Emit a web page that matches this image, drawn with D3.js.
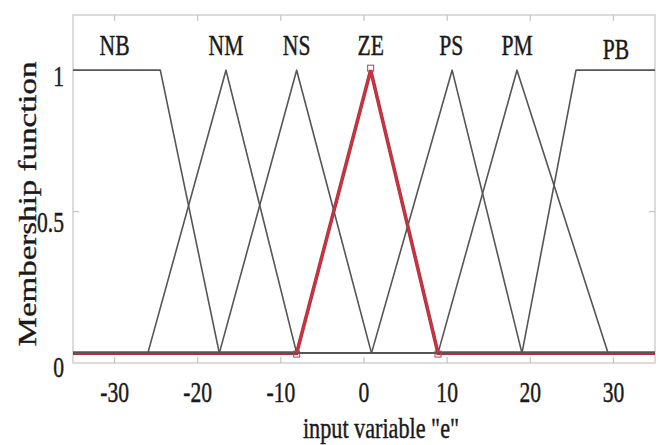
<!DOCTYPE html>
<html>
<head>
<meta charset="utf-8">
<script src="https://cdn.jsdelivr.net/npm/d3@7/dist/d3.min.js"></script>
<style>
  html, body { margin: 0; padding: 0; background: #fff; }
  svg { display: block; }
  text { font-family: "Liberation Serif", "DejaVu Serif", serif; fill: #1a1a1a; stroke: #1a1a1a; stroke-width: 0.45px; }
</style>
</head>
<body>
<svg id="chart" width="660" height="445"></svg>
<script>
// ---- data ----
const mfNames = ["NB", "NM", "NS", "ZE", "PS", "PM", "PB"];
const mfA = [-35, -26.0, -17.4, -8.1, 0.9, 8.9, 19.0];
const mfB = [-35, -16.6, -8.1, 0.8, 10.6, 18.4, 25.5];
const mfC = [-24.5, -16.6, -8.1, 0.8, 10.6, 18.4, 35];
const mfD = [-17.4, -8.1, 0.9, 8.9, 19.0, 29.35, 35];
const labelX = [-30, -16.6, -8.1, 0.8, 10.5, 18.4, 30.3];
const selectedMF = "ZE";
const xDomain = [-35, 35];
const xTicks = [-30, -20, -10, 0, 10, 20, 30];
const yTicks = [0, 0.5, 1];
const yTickLabels = ["0", "0.5", "1"];
const xTitle = 'input variable "e"';
const yTitle = "Membership function";

// ---- layout ----
const L = 73, R = 655, T = 15, B = 363;
const svg = d3.select("#chart");
const x = d3.scaleLinear().domain(xDomain).range([L, R]);
const y = d3.scaleLinear().domain([-0.035, 1.195]).range([B, T]);
const yLab = d3.scaleLinear().domain([0, 1]).range([367, 76]);

function trap(v, a, b, c, d) {
  if (v < a || v > d) return 0;
  const left = (b === a) ? 1 : (v - a) / (b - a);
  const right = (d === c) ? 1 : (d - v) / (d - c);
  return Math.max(0, Math.min(1, left, right));
}

const mfs = mfNames.map((n, i) => {
  const xs = Array.from(new Set([xDomain[0], mfA[i], mfB[i], mfC[i], mfD[i], xDomain[1]]))
    .filter(v => v >= xDomain[0] && v <= xDomain[1]).sort((p, q) => p - q);
  return { name: n, pts: xs.map(v => [v, trap(v, mfA[i], mfB[i], mfC[i], mfD[i])]), i };
});

const line = d3.line().x(d => x(d[0])).y(d => y(d[1]));

// frame
svg.append("rect").attr("x", L).attr("y", T).attr("width", R - L).attr("height", B - T)
  .attr("fill", "none").attr("stroke", "#cfcfcf").attr("stroke-width", 1.5);

// ticks (inward)
const tg = svg.append("g").attr("stroke", "#c4c4c4").attr("stroke-width", 1.2);
xTicks.forEach(t => {
  tg.append("line").attr("x1", x(t)).attr("x2", x(t)).attr("y1", B).attr("y2", B - 6);
  tg.append("line").attr("x1", x(t)).attr("x2", x(t)).attr("y1", T).attr("y2", T + 6);
});
yTicks.forEach(t => {
  tg.append("line").attr("x1", L).attr("x2", L + 6).attr("y1", y(t)).attr("y2", y(t));
  tg.append("line").attr("x1", R).attr("x2", R - 6).attr("y1", y(t)).attr("y2", y(t));
});

// selected MF (red) under, others over
const sel = mfs.find(m => m.name === selectedMF);
svg.append("path").attr("d", line(sel.pts)).attr("fill", "none")
  .attr("stroke", "#a8343f").attr("stroke-width", 3.6).attr("stroke-linejoin", "miter");

mfs.filter(m => m.name !== selectedMF).forEach(m => {
  svg.append("path").attr("d", line(m.pts)).attr("fill", "none")
    .attr("stroke", "#555555").attr("stroke-width", 1.6).attr("stroke-linejoin", "round");
});

// redraw red legs on top
const selLegs = sel.pts.filter(p => p[0] >= mfA[3] && p[0] <= mfD[3]);
svg.append("path").attr("d", line(selLegs)).attr("fill", "none")
  .attr("stroke", "#cc3340").attr("stroke-width", 2.2);

// vertex markers on selected MF
const si = mfNames.indexOf(selectedMF);
[[mfA[si], 0], [mfB[si], 1], [mfD[si], 0]].forEach(p => {
  svg.append("rect").attr("x", x(p[0]) - 3).attr("y", y(p[1]) - 3 - (p[1] === 1 ? 2 : -1))
    .attr("width", 6).attr("height", 6).attr("fill", "none")
    .attr("stroke", "#b04050").attr("stroke-width", 1);
});

// MF labels
mfNames.forEach((n, i) => {
  svg.append("text").attr("transform", `translate(${x(labelX[i])},${n === "PB" ? 59 : 55}) scale(0.72,1)`)
    .attr("text-anchor", "middle").attr("font-size", 30).text(n);
});

// x tick labels
xTicks.forEach(t => {
  svg.append("text").attr("transform", `translate(${x(t)},402) scale(0.72,1)`)
    .attr("text-anchor", "middle").attr("font-size", 30).text(t < 0 ? "-" + Math.abs(t) : String(t));
});

// y tick labels
yTicks.forEach((t, i) => {
  svg.append("text").attr("transform", `translate(64,${yLab(t) + 10}) scale(0.72,1)`)
    .attr("text-anchor", "end").attr("font-size", 30).text(yTickLabels[i]);
});

// axis titles
svg.append("text").attr("transform", `translate(381,438) scale(0.74,1)`)
  .attr("text-anchor", "middle").attr("font-size", 30).text(xTitle);
svg.append("text").attr("transform", `translate(36,204) rotate(-90) scale(1,0.78)`)
  .attr("text-anchor", "middle").attr("font-size", 33).text(yTitle);
</script>
</body>
</html>
